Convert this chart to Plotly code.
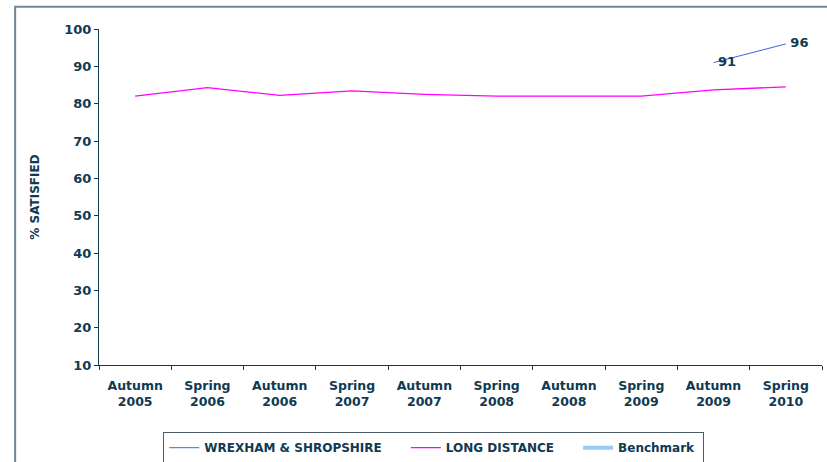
import plotly.graph_objects as go

categories = ["Autumn<br>2005", "Spring<br>2006", "Autumn<br>2006", "Spring<br>2007", "Autumn<br>2007",
              "Spring<br>2008", "Autumn<br>2008", "Spring<br>2009", "Autumn<br>2009", "Spring<br>2010"]
wrexham = [None, None, None, None, None, None, None, None, 91, 96]
long_distance = [82.0, 84.3, 82.2, 83.4, 82.5, 82.0, 82.0, 82.0, 83.7, 84.5]
benchmark = [None] * 10

navy = "#0f3a52"
font = dict(family="DejaVu Sans", size=12, color=navy)
pad = "\u00a0" * 5

fig = go.Figure()
fig.add_trace(go.Scatter(
    x=categories, y=wrexham, name="<b>WREXHAM & SHROPSHIRE</b>" + pad, mode="lines+text",
    line=dict(color="#3a66e0", width=1),
    text=[None if v is None else "<b>\u00a0%d</b>" % v for v in wrexham],
    textposition="middle right", textfont=dict(family="DejaVu Sans", size=13, color=navy),
))
fig.add_trace(go.Scatter(
    x=categories, y=long_distance, name="<b>LONG DISTANCE</b>" + pad, mode="lines",
    line=dict(color="#ff00ff", width=1.3),
))
fig.add_trace(go.Scatter(
    x=categories, y=benchmark, name="<b>Benchmark</b>\u00a0", mode="lines",
    line=dict(color="#99ccf5", width=4),
))

fig.update_layout(
    width=827, height=462,
    margin=dict(l=99, r=5, t=29, b=97, autoexpand=False),
    plot_bgcolor="white", paper_bgcolor="white",
    font=font,
    showlegend=True,
    legend=dict(
        orientation="h", x=0.463, xanchor="center", y=-0.2, yanchor="top",
        bordercolor="#4a5a66", borderwidth=1, font=dict(family="DejaVu Sans", size=12, color=navy),
        traceorder="normal", tracegroupgap=0,
    ),
    shapes=[dict(type="rect", xref="paper", yref="paper", x0=-0.116, x1=1.2, y0=-0.5, y1=1.066,
                 line=dict(color="#6f8796", width=2), fillcolor="rgba(0,0,0,0)", layer="above")],
)
fig.update_xaxes(
    range=[-0.5, 9.5], tickson="boundaries", ticks="outside", ticklen=4, tickcolor=navy,
    showline=True, linecolor=navy, linewidth=1, showgrid=False,
    tickfont=dict(family="DejaVu Sans", size=12.5, color=navy),
    tickprefix="<b>", ticksuffix="</b>", ticklabelstandoff=9,
)
fig.update_yaxes(
    range=[10, 100], dtick=10, ticks="outside", ticklen=4, tickcolor=navy,
    showline=True, linecolor=navy, linewidth=1, showgrid=False, zeroline=False,
    tickfont=dict(family="DejaVu Sans", size=13, color=navy),
    tickprefix="<b>", ticksuffix="</b>",
    title=dict(text="<b>% SATISFIED</b>", font=dict(family="DejaVu Sans", size=12, color=navy), standoff=22),
)

# page body has a default 8px margin; drop it so the figure sits at the window origin
fig.write_html("out.html", config={"displayModeBar": False},
               post_script="document.body.style.margin='0';")
